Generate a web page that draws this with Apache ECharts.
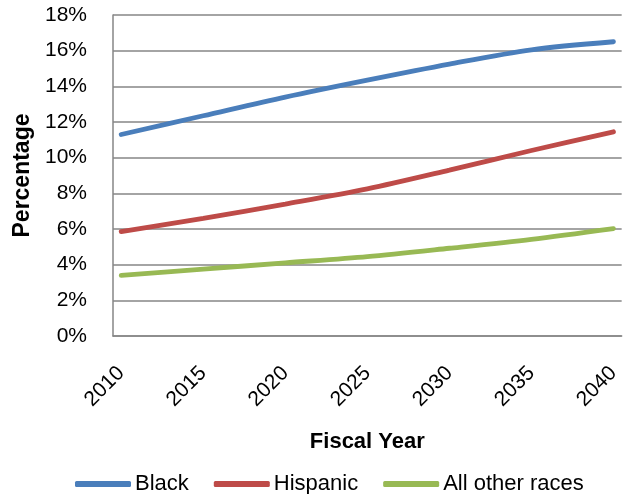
<!DOCTYPE html>
<html>
<head>
<meta charset="utf-8">
<script src="https://cdn.jsdelivr.net/npm/echarts@6/dist/echarts.min.js"></script>
<style>
html,body{margin:0;padding:0;background:#fff;}
#c{width:623px;height:494px;}
</style>
</head>
<body>
<div id="c"></div>
<script>
var years = [2010, 2015, 2020, 2025, 2030, 2035, 2040];
var tickYears = [2010, 2015, 2020, 2025, 2030, 2035, 2040];
var black = [11.3, 12.35, 13.4, 14.35, 15.25, 16.05, 16.5];
var hispanic = [5.85, 6.6, 7.4, 8.25, 9.3, 10.4, 11.45];
var otherRaces = [3.4, 3.75, 4.1, 4.45, 4.92, 5.42, 6.02];
var yTicks = [0, 2, 4, 6, 8, 10, 12, 14, 16, 18];

function pairs(vals) { return years.map(function (y, i) { return [y, vals[i]]; }); }

var FONT = 'Liberation Sans';
var chart = echarts.init(document.getElementById('c'), null, {renderer: 'canvas'});
function mk(name, vals, color) {
  return {
    name: name, type: 'line', data: pairs(vals), smooth: 0.3, showSymbol: false,
    lineStyle: {color: color, width: 4.8, cap: 'round'}, itemStyle: {color: color}
  };
}
chart.setOption({
  animation: false,
  textStyle: {fontFamily: FONT},
  grid: {left: 113, right: 1, top: 15, bottom: 158, containLabel: false},
  xAxis: {
    type: 'value', min: 2009.5, max: 2040.5,
    name: 'Fiscal Year', nameLocation: 'middle', nameGap: 95,
    nameTextStyle: {fontFamily: FONT, fontSize: 22, fontWeight: 'bold', color: '#000'},
    axisLine: {show: true, lineStyle: {color: '#868686', width: 1.5}},
    axisTick: {show: false},
    splitLine: {show: false},
    axisLabel: {
      customValues: tickYears, rotate: 45, margin: 34,
      fontFamily: FONT, fontSize: 21, color: '#000',
      formatter: function (v) { return String(v); }
    }
  },
  yAxis: {
    type: 'value', min: 0, max: 18, interval: 2,
    name: 'Percentage', nameLocation: 'middle', nameRotate: 90, nameGap: 79,
    nameTextStyle: {fontFamily: FONT, fontSize: 23, fontWeight: 'bold', color: '#000'},
    axisLine: {show: true, lineStyle: {color: '#868686', width: 1.5}},
    axisTick: {show: false},
    splitLine: {show: true, lineStyle: {color: '#868686', width: 1.5}},
    axisLabel: {
      fontFamily: FONT, fontSize: 21, color: '#000', margin: 26,
      formatter: function (v) { return v + '%'; }
    }
  },
  legend: {
    top: 473, left: 75, padding: 0, itemWidth: 56, itemHeight: 6, itemGap: 25,
    icon: 'roundRect',
    textStyle: {fontFamily: FONT, fontSize: 22, color: '#000', padding: [0, 0, 0, -1]},
    data: ['Black', 'Hispanic', 'All other races']
  },
  series: [
    mk('Black', black, '#4A7EBB'),
    mk('Hispanic', hispanic, '#BE4B48'),
    mk('All other races', otherRaces, '#98B954')
  ]
});
</script>
</body>
</html>
